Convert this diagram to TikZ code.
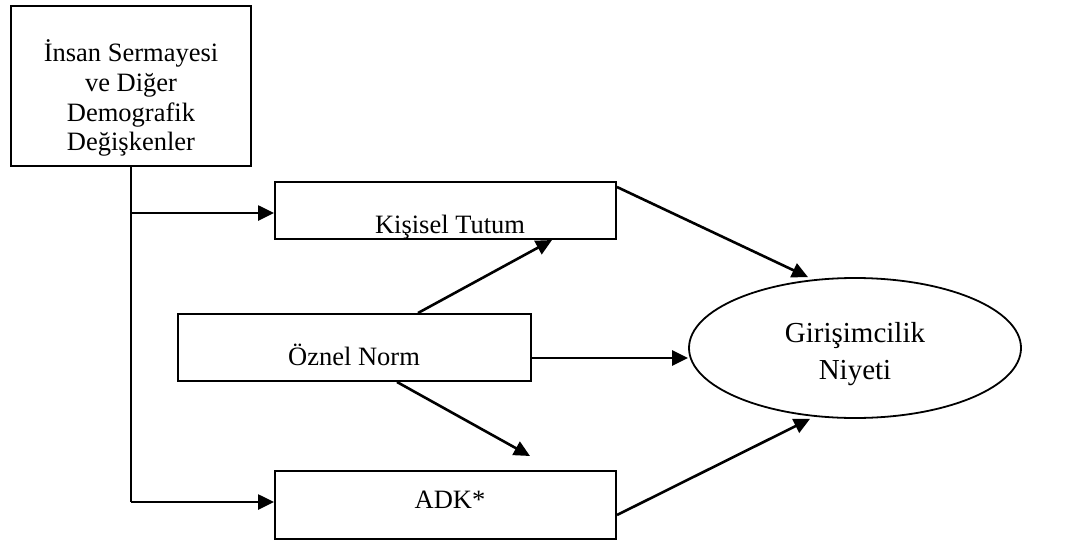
\documentclass[tikz,border=0pt]{standalone}
\usepackage{fontspec}
\setmainfont{Liberation Serif}
\usetikzlibrary{arrows.meta,shapes.geometric}
\begin{document}
\begin{tikzpicture}[x=1pt,y=-1pt,
  box/.style={draw=black,line width=2pt,rectangle,inner sep=0pt},
  oval/.style={draw=black,line width=1.8pt,ellipse,inner sep=0pt},
  txt/.style={inner sep=0pt,anchor=base,font=\fontsize{26.5}{29.5}\selectfont},
  bigtxt/.style={inner sep=0pt,anchor=base,font=\fontsize{29}{37}\selectfont},
  link/.style={line width=2.6pt,-{Triangle[length=16pt,width=15pt]}},
  plain/.style={line width=2.6pt}]
\useasboundingbox (0,0) rectangle (1070,543);

% boxes
\node[box,minimum width=240pt,minimum height=160pt] (hc) at (131,86) {};
\node[box,minimum width=341pt,minimum height=57pt] (kt) at (445.5,210.5) {};
\node[box,minimum width=353pt,minimum height=67pt] (on) at (354.5,347.5) {};
\node[box,minimum width=341pt,minimum height=68pt] (adk) at (445.5,505) {};
\node[oval,minimum width=332pt,minimum height=140pt] (gn) at (855,348) {};

% labels
\node[txt] (hc1) at (131,62) {İnsan Sermayesi};
\node[txt] (hc2) at (131,92) {ve Diğer};
\node[txt] (hc3) at (131,121) {Demografik};
\node[txt] (hc4) at (131,150) {Değişkenler};
\node[txt] (ktl) at (450,233) {Kişisel Tutum};
\node[txt] (onl) at (354,365) {Öznel Norm};
\node[txt] (adkl) at (450,508) {ADK*};
\node[bigtxt] (gn1) at (855,342) {Girişimcilik};
\node[bigtxt] (gn2) at (855,379) {Niyeti};

% connectors
\coordinate (br) at (hc.south |- kt.west);
\draw[plain] (hc.south) -- ([yshift=3pt]hc.south |- adk.west);
\draw[link] ([yshift=3pt]hc.south |- adk.west) -- ([yshift=3pt]adk.west);
\draw[link] ([yshift=-2.5pt]br) -- ([yshift=-2.5pt]kt.west);
\draw[link] ([xshift=63.5pt]on.north) -- ([xshift=106.5pt]kt.south);
\draw[link] ([xshift=42.5pt]on.south) -- ([xshift=84.5pt,yshift=14pt]adk.north);
\draw[link] ([yshift=-10.5pt]on.east) -- ([yshift=-10.5pt]on.east -| gn.west);
\draw[link] ([yshift=-6pt]kt.north east) -- ([xshift=-47pt]gn.north);
\draw[link] ([yshift=-10pt]adk.east) -- ([xshift=-45pt]gn.south);
\end{tikzpicture}
\end{document}
